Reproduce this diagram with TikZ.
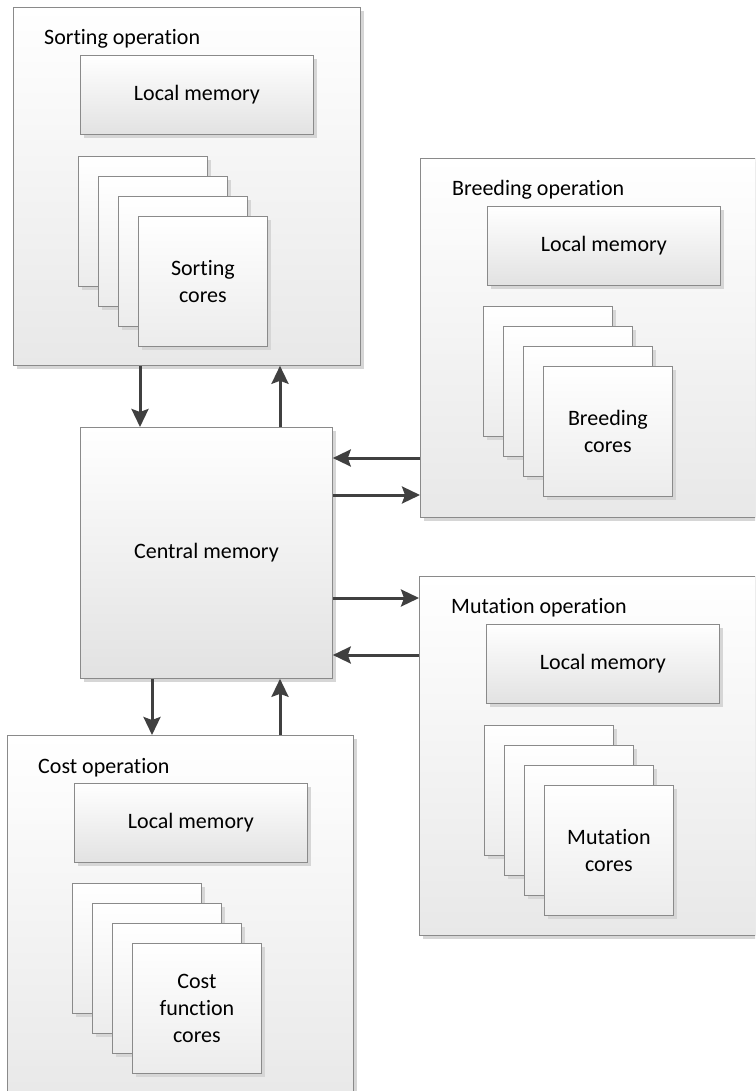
\documentclass[tikz,border=0pt]{standalone}
\usepackage{fontspec}
\setmainfont{Carlito}[Ligatures=NoCommon]
\usetikzlibrary{arrows.meta,shadows}

\definecolor{boxline}{HTML}{8A8A8A}
\definecolor{arrowc}{HTML}{404040}
\definecolor{opbot}{HTML}{E8E8E8}
\definecolor{lmbot}{HTML}{E2E2E2}
\definecolor{corebot}{HTML}{ECECEC}
\definecolor{shadowc}{HTML}{D6D6D6}

\tikzset{
  x=1pt, y=-1pt,
  every node/.style={font=\fontsize{22}{27}\selectfont},
  boxbase/.style={draw=boxline, line width=0.8pt, anchor=north west,
    inner sep=0pt, align=center, top color=white,
    drop shadow={shadow xshift=4pt, shadow yshift=-4pt, fill=shadowc, opacity=1}},
  opbox/.style={boxbase, bottom color=opbot},
  lmbox/.style={boxbase, bottom color=lmbot, minimum width=233pt, minimum height=79pt},
  corebox/.style={boxbase, bottom color=corebot, minimum width=129pt, minimum height=130pt},
  title/.style={anchor=base west, inner sep=0pt},
  arr/.style={draw=arrowc, line width=3pt,
    -{Stealth[length=18pt, width=17pt, inset=3pt]}},
}

\begin{document}
\begin{tikzpicture}
\useasboundingbox (0,0) rectangle (755,1091);
\clip (0,0) rectangle (755,1091);

% Sorting operation
\node[opbox, minimum width=347pt, minimum height=358pt] (sort) at (13,7) {};
\node[title] (sorttitle) at (44,45) {Sorting operation};
\node[lmbox] (sortlm) at (80,55) {Local memory};
\node[corebox] (sortc1) at (78,156) {};
\node[corebox] (sortc2) at (98,176) {};
\node[corebox] (sortc3) at (118,196) {};
\node[corebox] (sortc4) at (138,216) {Sorting\\cores};

% Breeding operation
\node[opbox, minimum width=335pt, minimum height=359pt] (breed) at (420,158) {};
\node[title] (breedtitle) at (452,196) {Breeding operation};
\node[lmbox] (breedlm) at (487,206) {Local memory};
\node[corebox] (breedc1) at (483,306) {};
\node[corebox] (breedc2) at (503,326) {};
\node[corebox] (breedc3) at (523,346) {};
\node[corebox] (breedc4) at (543,366) {Breeding\\cores};

% Central memory
\node[boxbase, bottom color=lmbot, minimum width=252pt, minimum height=251pt] (central) at (80,427) {Central memory};

% Mutation operation
\node[opbox, minimum width=336pt, minimum height=359pt] (mut) at (419,576) {};
\node[title] (muttitle) at (451,613) {Mutation operation};
\node[lmbox] (mutlm) at (486,624) {Local memory};
\node[corebox] (mutc1) at (484,725) {};
\node[corebox] (mutc2) at (504,745) {};
\node[corebox] (mutc3) at (524,765) {};
\node[corebox] (mutc4) at (544,785) {Mutation\\cores};

% Cost operation
\node[opbox, minimum width=346pt, minimum height=370pt] (cost) at (7,735) {};
\node[title] (costtitle) at (38,773) {Cost operation};
\node[lmbox] (costlm) at (74,783) {Local memory};
\node[corebox] (costc1) at (72,883) {};
\node[corebox] (costc2) at (92,903) {};
\node[corebox] (costc3) at (112,923) {};
\node[corebox] (costc4) at (132,943) {Cost\\function\\cores};

% Data flow between central memory and the operations
\draw[arr] (sort.south -| 140,0) -- (central.north -| 140,0);
\draw[arr] (central.north -| 280,0) -- (sort.south -| 280,0);
\draw[arr] (breed.west |- 0,458) -- (central.east |- 0,458);
\draw[arr] (central.east |- 0,495) -- (breed.west |- 0,495);
\draw[arr] (central.east |- 0,598) -- (mut.west |- 0,598);
\draw[arr] (mut.west |- 0,655) -- (central.east |- 0,655);
\draw[arr] (central.south -| 152,0) -- (cost.north -| 152,0);
\draw[arr] (cost.north -| 280,0) -- (central.south -| 280,0);
\end{tikzpicture}
\end{document}
